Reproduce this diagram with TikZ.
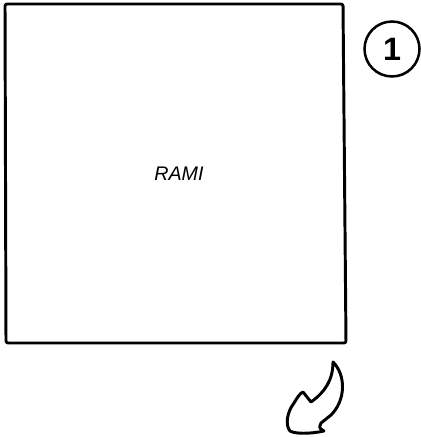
\documentclass[tikz,border=0pt]{standalone}
\usepackage{fontspec}
\setmainfont{Liberation Sans}

\tikzset{
trait/.style={line width=4.2pt,line join=round,line cap=round},
etape/.style={circle,draw,line width=3.6pt,minimum size=2.75cm,inner sep=0pt,font=\fontsize{46}{50}\selectfont\bfseries}
}

\begin{document}
\begin{tikzpicture}[x=0.05cm,y=-0.05cm]

\useasboundingbox
(0,0)
rectangle
(421,437);

% Feuille
\draw[trait,rounded corners=3pt]
(5,4)
--
(343,4)
--
(346,343)
--
(6,343)
--
cycle;

\node (rami) at (179,174)
{\fontsize{28}{32}\selectfont\itshape RAMI};

% Etape
\node[etape] (num) at (392,49)
{1};

% Fleche
\draw[trait]
(333,362)
.. controls (346,375) and (346,400) .. (331,415)
--
(321,423)
.. controls (319,428) .. (324,431)
.. controls (310,434) and (295,434) .. (290,431)
.. controls (285,425) and (287,412) .. (294,403)
.. controls (297,398) and (300,393) .. (303,392)
--
(311,402)
.. controls (325,392) and (333,380) .. (333,362)
--
cycle;

\end{tikzpicture}
\end{document}
